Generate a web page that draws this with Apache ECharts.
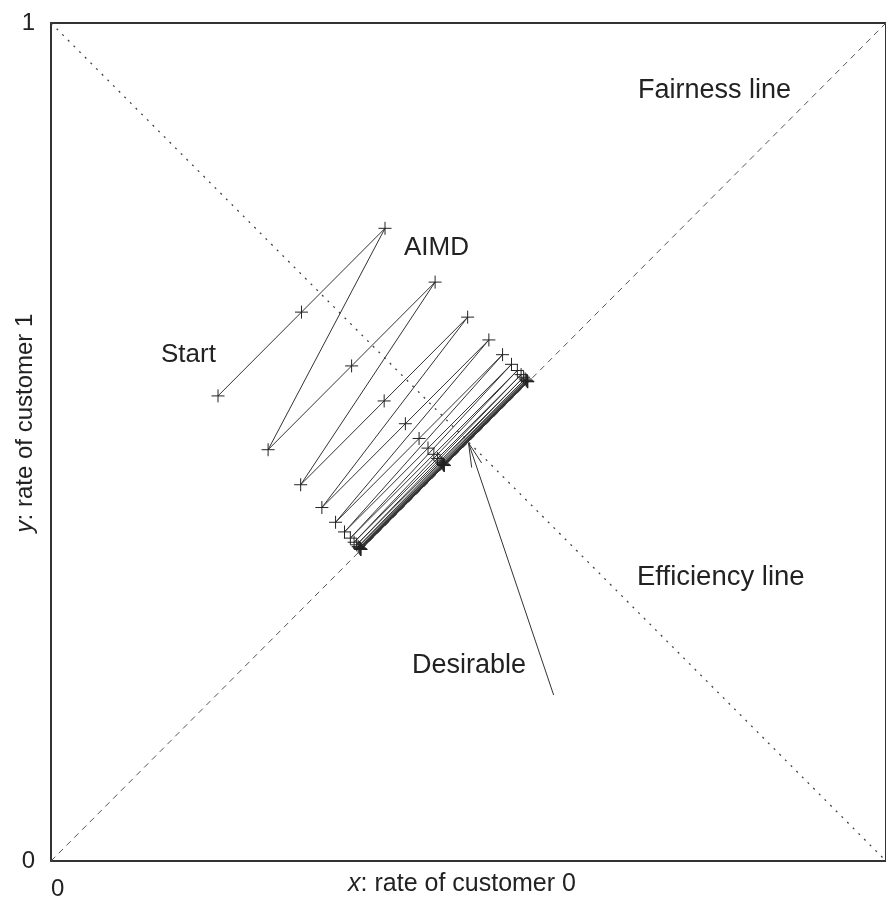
<!DOCTYPE html>
<html>
<head>
<meta charset="utf-8">
<script src="https://cdn.jsdelivr.net/npm/echarts@6/dist/echarts.min.js"></script>
<style>
html,body{margin:0;padding:0;background:#fff;}
#chart{width:886px;height:899px;}
</style>
</head>
<body>
<div id="chart"></div>
<script>
// AIMD trajectory (rate of customer 0, rate of customer 1)
const trajX = [0.2000,0.3000,0.4000, 0.2600,0.3600,0.4600, 0.2990,0.3990,0.4990, 0.3244,0.4244,0.5244,
  0.3408,0.4408,0.5408, 0.3515,0.4515,0.5515, 0.3585,0.4585,0.5585, 0.3630,0.4630,0.5630,
  0.3660,0.4660,0.5660, 0.3679,0.4679,0.5679, 0.3691,0.4691,0.5691, 0.3699,0.4699,0.5699,
  0.3705,0.4705,0.5705, 0.3708,0.4708,0.5708, 0.3710,0.4710,0.5710, 0.3712];
const trajY = [0.5550,0.6550,0.7550, 0.4908,0.5908,0.6908, 0.4490,0.5490,0.6490, 0.4218,0.5218,0.6218,
  0.4042,0.5042,0.6042, 0.3927,0.4927,0.5927, 0.3853,0.4853,0.5853, 0.3804,0.4804,0.5804,
  0.3773,0.4773,0.5773, 0.3752,0.4752,0.5752, 0.3739,0.4739,0.5739, 0.3730,0.4730,0.5730,
  0.3725,0.4725,0.5725, 0.3721,0.4721,0.5721, 0.3719,0.4719,0.5719, 0.3717];
// reference lines
const fairnessLine = [[0, 0], [1, 1]];
const efficiencyLine = [[0, 1], [1, 0]];
// "Desirable" arrow (tail -> tip) and arrowhead barbs
const arrowShaft = [[0.602, 0.198], [0.500, 0.499]];
const arrowBarbs = [[0.5038, 0.4695], [0.500, 0.499], [0.5157, 0.4750]];
const tickValues = [0, 1];

const traj = trajX.map((x, i) => [x, trajY[i]]);
const TXT = '#222';
const FONT = 'Liberation Sans, Arial, Helvetica, sans-serif';

const chart = echarts.init(document.getElementById('chart'), null, {renderer: 'canvas'});
const axisCommon = {
  type: 'value', min: tickValues[0], max: tickValues[1], interval: 1,
  splitLine: {show: false},
  axisLine: {show: true, onZero: false, lineStyle: {color: '#333', width: 2}},
  axisTick: {show: true, inside: true, length: 10, lineStyle: {color: '#333', width: 2}}
};
chart.setOption({
  animation: false,
  backgroundColor: '#fff',
  grid: {left: 51, top: 23, width: 835, height: 838, containLabel: false, outerBoundsMode: 'none'},
  xAxis: [
    Object.assign({}, axisCommon, {position: 'bottom',
      axisLabel: {show: true, color: TXT, fontFamily: FONT, fontSize: 24, margin: 16, align: 'left'}}),
    Object.assign({}, axisCommon, {position: 'top', axisLabel: {show: false}})
  ],
  yAxis: [
    Object.assign({}, axisCommon, {position: 'left',
      axisLabel: {show: true, color: TXT, fontFamily: FONT, fontSize: 24, margin: 16}}),
    Object.assign({}, axisCommon, {position: 'right', axisLabel: {show: false}})
  ],
  series: [
    {type: 'line', data: fairnessLine, symbol: 'none', silent: true,
     lineStyle: {color: '#555', width: 1, type: [6, 5]}},
    {type: 'line', data: efficiencyLine, symbol: 'none', silent: true,
     lineStyle: {color: '#444', width: 1.3, type: [2, 6]}},
    {type: 'line', data: traj, showAllSymbol: true,
     symbol: 'path://M0,6L12,6M6,0L6,12', symbolSize: 13,
     itemStyle: {color: '#222', borderColor: '#222', borderWidth: 1},
     lineStyle: {color: '#333', width: 1}},
    {type: 'line', data: arrowShaft, symbol: 'none', lineStyle: {color: '#333', width: 1}},
    {type: 'line', data: arrowBarbs, symbol: 'none', lineStyle: {color: '#333', width: 1}}
  ],
  graphic: [
    {type: 'text', left: 638, top: 77, style: {text: 'Fairness line', fill: TXT, font: '27px ' + FONT}},
    {type: 'text', left: 404, top: 235, style: {text: 'AIMD', fill: TXT, font: '26px ' + FONT}},
    {type: 'text', left: 161, top: 342, style: {text: 'Start', fill: TXT, font: '26px ' + FONT}},
    {type: 'text', left: 637, top: 563, style: {text: 'Efficiency line', fill: TXT, font: '27.5px ' + FONT}},
    {type: 'text', left: 412, top: 652, style: {text: 'Desirable', fill: TXT, font: '27px ' + FONT}},
    {type: 'text', x: 462, y: 884, style: {
      text: '{i|x}: rate of customer 0', align: 'center', verticalAlign: 'middle',
      fill: TXT, font: '25px ' + FONT,
      rich: {i: {fontStyle: 'italic', fontFamily: FONT, fontSize: 25, fill: TXT}}}},
    {type: 'text', x: 25, y: 423, rotation: Math.PI / 2, style: {
      text: '{i|y}: rate of customer 1', align: 'center', verticalAlign: 'middle',
      fill: TXT, font: '24px ' + FONT,
      rich: {i: {fontStyle: 'italic', fontFamily: FONT, fontSize: 24, fill: TXT}}}}
  ]
});
</script>
</body>
</html>
